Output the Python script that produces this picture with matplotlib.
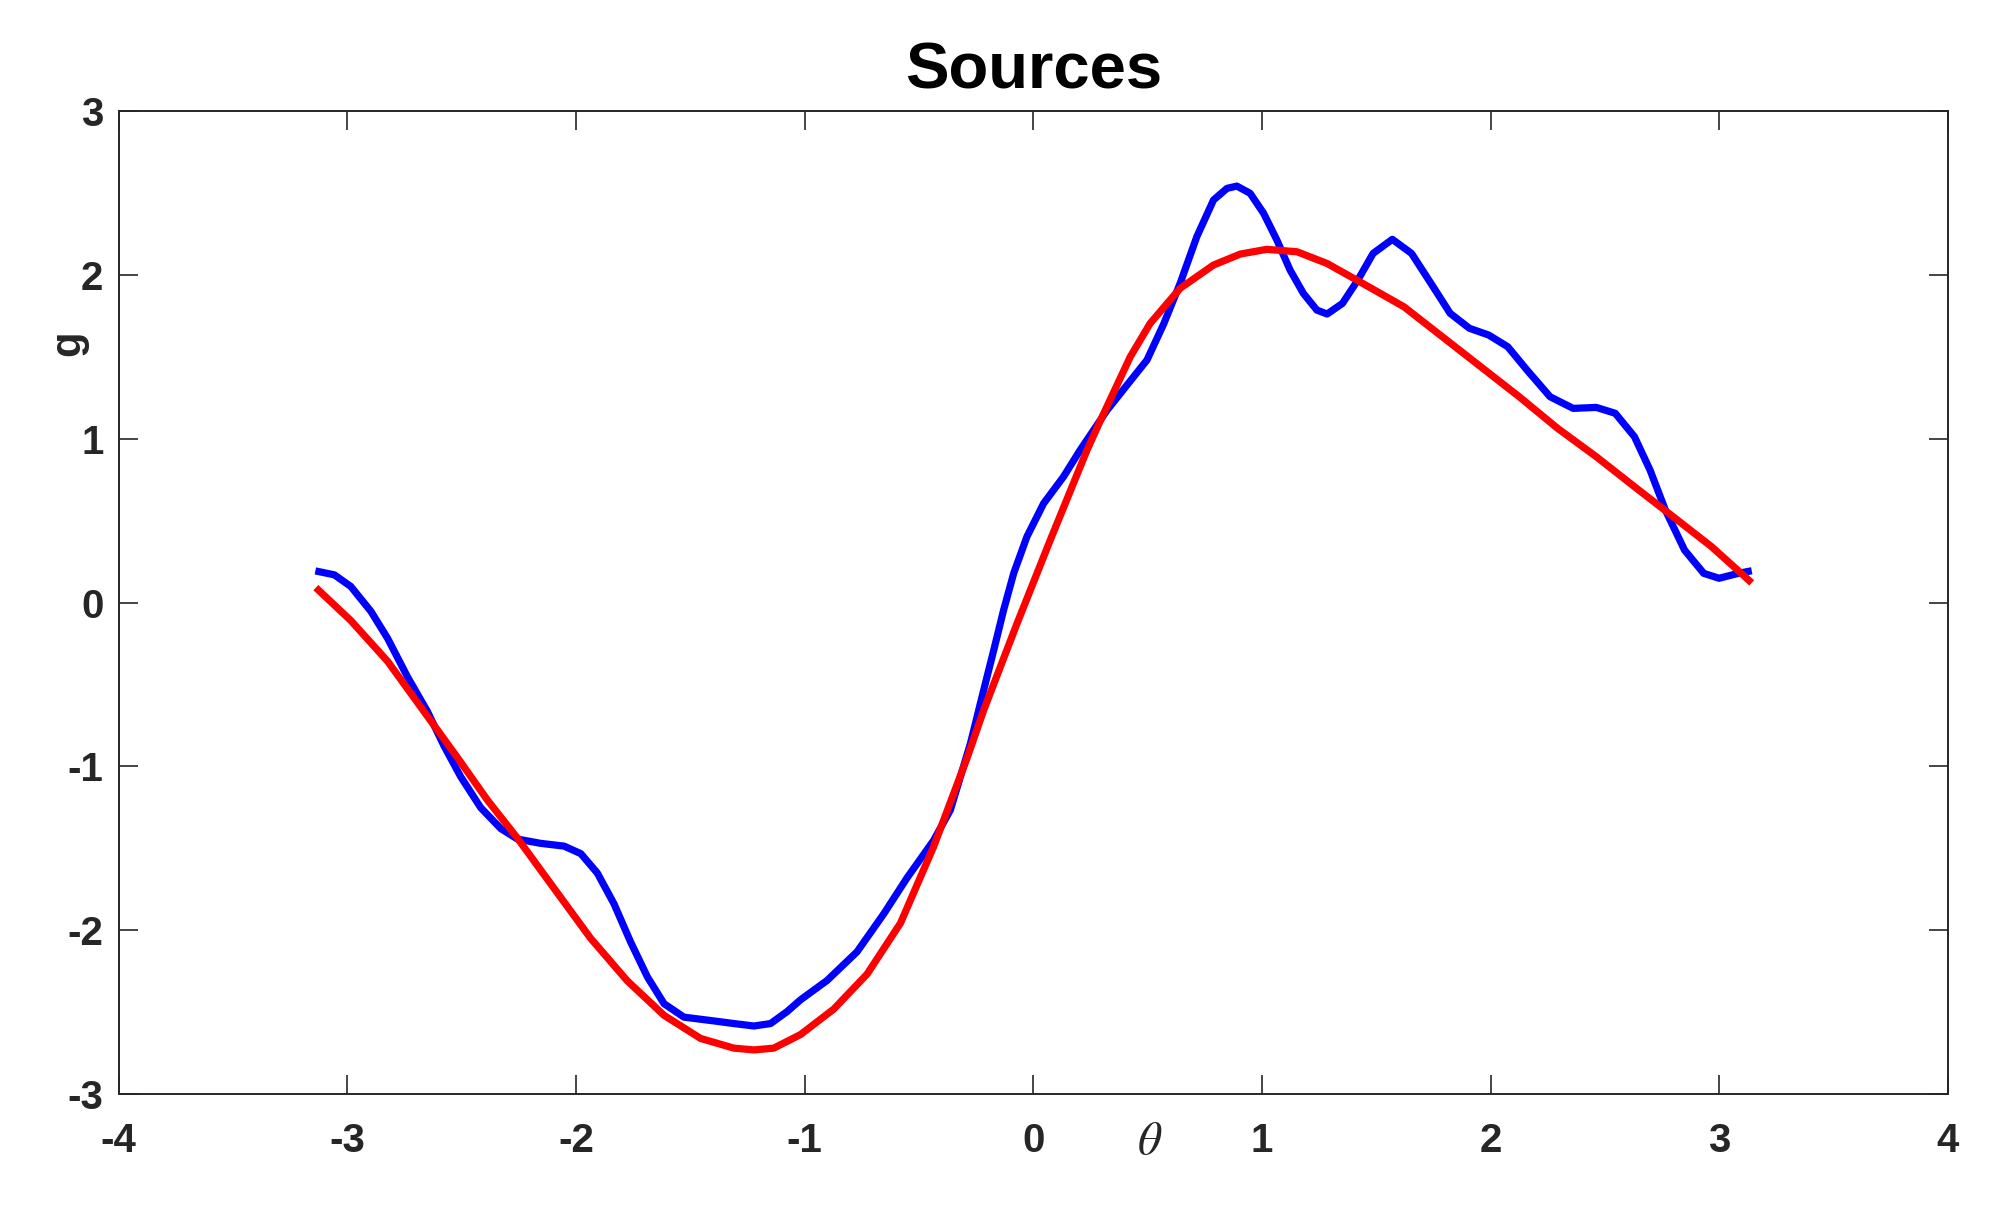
import numpy as np
import matplotlib
matplotlib.use("Agg")
import matplotlib.pyplot as plt

plt.rcParams['font.family'] = ['Liberation Sans', 'DejaVu Sans']
plt.rcParams['axes.unicode_minus'] = False
plt.rcParams['mathtext.fontset'] = 'stix'

# curva azul (fuente medida)
x_azul = [-3.140, -3.057, -2.985, -2.897, -2.824, -2.737, -2.650, -2.577, -2.504, -2.417,
          -2.329, -2.256, -2.155, -2.052, -1.979, -1.907, -1.834, -1.761, -1.688, -1.615,
          -1.528, -1.397, -1.310, -1.222, -1.149, -1.076, -1.018, -0.902, -0.771, -0.654,
          -0.552, -0.436, -0.363, -0.275, -0.217, -0.173, -0.130, -0.086, -0.028, 0.045,
          0.132, 0.205, 0.322, 0.410, 0.497, 0.570, 0.642, 0.715, 0.788, 0.847,
          0.890, 0.948, 1.007, 1.065, 1.123, 1.181, 1.240, 1.285, 1.352, 1.419,
          1.486, 1.570, 1.654, 1.739, 1.823, 1.907, 1.991, 2.075, 2.159, 2.260,
          2.361, 2.462, 2.545, 2.629, 2.697, 2.764, 2.848, 2.932, 2.999, 3.083,
          3.142]
y_azul = [0.193, 0.169, 0.098, -0.054, -0.219, -0.454, -0.665, -0.876, -1.064, -1.252,
          -1.380, -1.444, -1.470, -1.487, -1.533, -1.651, -1.839, -2.073, -2.285, -2.449,
          -2.531, -2.554, -2.570, -2.585, -2.570, -2.496, -2.425, -2.307, -2.132, -1.900,
          -1.680, -1.452, -1.267, -0.860, -0.534, -0.290, -0.046, 0.178, 0.402, 0.605,
          0.768, 0.931, 1.173, 1.328, 1.480, 1.700, 1.948, 2.233, 2.457, 2.528,
          2.542, 2.498, 2.376, 2.213, 2.029, 1.887, 1.785, 1.761, 1.826, 1.968,
          2.131, 2.217, 2.131, 1.948, 1.765, 1.674, 1.633, 1.561, 1.419, 1.256,
          1.185, 1.191, 1.155, 1.012, 0.809, 0.565, 0.320, 0.178, 0.148, 0.178,
          0.194]

# curva roja (suave)
x_rojo = [-3.138, -2.985, -2.824, -2.665, -2.519, -2.388, -2.256, -2.096, -1.936, -1.776,
          -1.615, -1.455, -1.310, -1.222, -1.135, -1.018, -0.873, -0.727, -0.581, -0.436,
          -0.363, -0.290, -0.217, -0.071, 0.074, 0.235, 0.293, 0.424, 0.511, 0.642,
          0.788, 0.905, 1.021, 1.153, 1.284, 1.453, 1.621, 1.789, 1.957, 2.125,
          2.293, 2.462, 2.629, 2.798, 2.966, 3.142]
y_rojo = [0.091, -0.110, -0.359, -0.665, -0.946, -1.205, -1.439, -1.745, -2.050, -2.309,
          -2.520, -2.661, -2.720, -2.731, -2.720, -2.637, -2.482, -2.268, -1.957, -1.490,
          -1.220, -0.950, -0.657, -0.127, 0.381, 0.931, 1.110, 1.500, 1.704, 1.918,
          2.060, 2.127, 2.156, 2.141, 2.070, 1.938, 1.805, 1.622, 1.439, 1.256,
          1.063, 0.890, 0.707, 0.524, 0.341, 0.120]

xticks = [-4, -3, -2, -1, 0, 1, 2, 3, 4]
yticks = [-3, -2, -1, 0, 1, 2, 3]

fig = plt.figure(figsize=(20.02, 12.27), dpi=100)
ax = fig.add_axes([0.0593, 0.1084, 0.9137, 0.8011])
ax.plot(x_azul, y_azul, color=(0, 0, 1), lw=5.2, solid_capstyle='butt', solid_joinstyle='round')
ax.plot(x_rojo, y_rojo, color=(1, 0, 0), lw=5.2, solid_capstyle='butt', solid_joinstyle='round')

ax.set_xlim(-4, 4)
ax.set_ylim(-3, 3)
ax.set_xticks(xticks)
ax.set_yticks(yticks)
ax.set_xticklabels([str(t) for t in xticks])
ax.set_yticklabels([str(t) for t in yticks])
ax.tick_params(direction='in', length=13.5, width=1.2, color='#262626',
               top=True, right=True, labelsize=29, labelcolor='#262626')
ax.tick_params(axis='x', pad=20)
ax.tick_params(axis='y', pad=11)
for lab in ax.get_xticklabels() + ax.get_yticklabels():
    lab.set_fontweight('bold')
for s in ax.spines.values():
    s.set_linewidth(1.4)
    s.set_color('#262626')

ax.set_title("Sources", fontsize=47, fontweight='bold', pad=16)
ax.set_xlabel(r"$\theta$", fontsize=34, color='#262626', va='center', ha='center')
ax.xaxis.set_label_coords(0.5638, -0.0488)
ax.set_ylabel("g", fontsize=30, fontweight='bold', color='#262626', va='center', ha='center')
ax.yaxis.set_label_coords(-0.0277, 0.764)

plt.savefig("out.png", dpi=100)
plt.close()
